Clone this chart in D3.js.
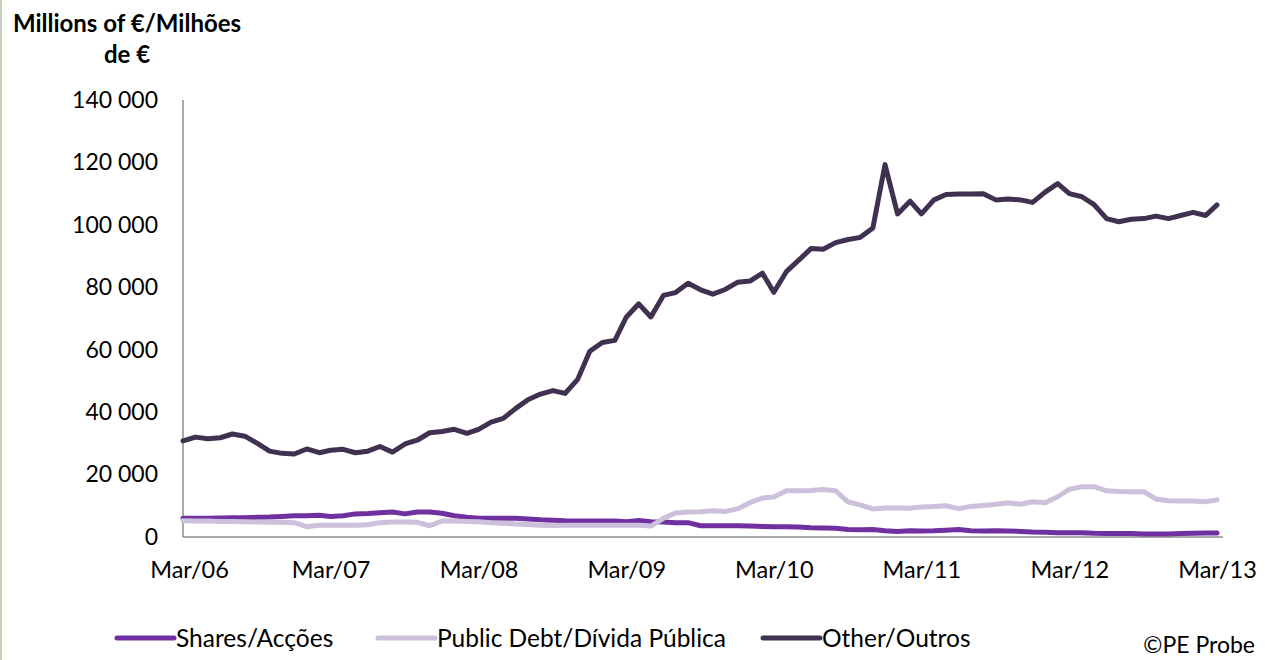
<!DOCTYPE html>
<html>
<head>
<meta charset="utf-8">
<script src="https://cdn.jsdelivr.net/npm/d3@7"></script>
<style>
  body { margin: 0; background: #fff; }
  svg { display: block; font-family: Lato, "Open Sans", sans-serif; }
</style>
</head>
<body>
<svg id="chart"></svg>
<script>
// monthly values, Mar/06 .. Mar/13, millions of euro
var shares = [6000, 6000, 6000, 6100, 6200, 6200, 6300, 6400, 6600, 6800,
  6800, 7000, 6600, 6800, 7400, 7500, 7800, 8000, 7400, 8000,
  8000, 7600, 6800, 6300, 6000, 6000, 6000, 6000, 5800, 5500,
  5400, 5200, 5100, 5100, 5100, 5100, 4900, 5300, 4900, 4800,
  4600, 4600, 3600, 3600, 3600, 3600, 3500, 3400, 3300, 3300,
  3200, 3000, 2900, 2800, 2400, 2300, 2400, 2000, 1800, 2000,
  1900, 2000, 2200, 2400, 2000, 1900, 2000, 1900, 1800, 1600,
  1500, 1400, 1400, 1400, 1200, 1100, 1100, 1100, 1000, 1000,
  1000, 1100, 1200, 1300, 1300];

var publicDebt = [5200, 5100, 5100, 5000, 5000, 4900, 4800, 4700, 4700, 4600,
  3300, 3800, 3800, 3800, 3800, 3900, 4600, 4800, 4800, 4700,
  3600, 5100, 5100, 5000, 4900, 4600, 4400, 4200, 4000, 3800,
  3700, 3800, 3800, 3800, 3800, 3800, 3800, 3800, 3500, 6000,
  7700, 8000, 8100, 8400, 8200, 9000, 11000, 12500, 12800, 14800,
  14800, 14900, 15200, 14800, 11200, 10300, 9000, 9300, 9300, 9200,
  9600, 9800, 10000, 9100, 9800, 10100, 10500, 11000, 10500, 11300,
  11000, 12900, 15300, 16100, 16100, 14800, 14600, 14500, 14500, 12200,
  11600, 11500, 11500, 11300, 11900];

var other = [30800, 32000, 31500, 31800, 33000, 32300, 30000, 27500, 26800, 26600,
  28200, 27000, 27800, 28100, 27000, 27500, 29000, 27200, 29800, 31000,
  33400, 33800, 34500, 33200, 34500, 36800, 38000, 41200, 44000, 45800,
  46900, 46000, 50500, 59500, 62300, 63000, 70400, 74700, 70500, 77400,
  78300, 81300, 79200, 77800, 79300, 81600, 82000, 84500, 78400, 85000,
  88600, 92400, 92200, 94300, 95300, 96000, 99000, 119300, 103500, 107600,
  103500, 108000, 109700, 109900, 109900, 110000, 108000, 108300, 108000, 107200,
  110500, 113200, 110000, 109000, 106500, 102000, 101000, 101800, 102000, 102800,
  102000, 103000, 104000, 103000, 106400];

var seriesNames = ["Shares/Acções", "Public Debt/Dívida Pública", "Other/Outros"];
var seriesColors = ["#7030a0", "#ccc0da", "#403151"];
var yTicks = [0, 20000, 40000, 60000, 80000, 100000, 120000, 140000];

var months = d3.timeMonth.range(new Date(2006, 2, 1), new Date(2013, 3, 1));
var yearTicks = months.filter(function(d, i) { return i % 12 === 0; });

var width = 1270, height = 660;
var svg = d3.select("#chart").attr("width", width).attr("height", height);

// thin frame line on the left edge
svg.append("line")
    .attr("x1", 1).attr("x2", 1).attr("y1", 0).attr("y2", height)
    .attr("stroke", "#c5d0b7").attr("stroke-width", 2);

var x = d3.scaleTime()
    .domain([months[0], months[months.length - 1]])
    .range([183, 1217]);
var y = d3.scaleLinear().domain([0, 140000]).range([537, 100]);

var fmt = d3.formatLocale({decimal: ",", thousands: " ", grouping: [3], currency: ["", "€"]}).format(",");

// y axis
var yAxis = svg.append("g")
    .attr("transform", "translate(183,0)")
    .call(d3.axisLeft(y).tickValues(yTicks).tickSize(0).tickPadding(25).tickFormat(fmt));
yAxis.select(".domain").remove();
yAxis.selectAll("text")
    .attr("font-family", "Lato, sans-serif")
    .attr("font-size", 23)
    .attr("fill", "#000");

svg.append("line")
    .attr("x1", 183).attr("x2", 183).attr("y1", 100).attr("y2", 537)
    .attr("stroke", "#8c8c8c").attr("stroke-width", 1.5);

// x axis
var xAxis = svg.append("g")
    .attr("transform", "translate(0,537)")
    .call(d3.axisBottom(x).tickValues(yearTicks).tickSize(0).tickPadding(24)
        .tickFormat(d3.timeFormat("%b/%y")));
xAxis.select(".domain").remove();
xAxis.selectAll("text")
    .attr("font-family", "Lato, sans-serif")
    .attr("font-size", 23.5)
    .attr("fill", "#000")
    .attr("dx", function(d, i) { return i === 0 ? 6 : 0; });

svg.append("line")
    .attr("x1", 183).attr("x2", 1223).attr("y1", 537).attr("y2", 537)
    .attr("stroke", "#8c8c8c").attr("stroke-width", 1.5);

// lines
var line = d3.line()
    .x(function(d, i) { return x(months[i]); })
    .y(function(d) { return y(d); });

[shares, publicDebt, other].forEach(function(s, k) {
  svg.append("path")
      .datum(s)
      .attr("fill", "none")
      .attr("stroke", seriesColors[k])
      .attr("stroke-width", 5)
      .attr("stroke-linejoin", "round")
      .attr("stroke-linecap", "round")
      .attr("d", line);
});

// axis title
var title = svg.append("text")
    .attr("font-weight", "bold")
    .attr("font-size", 24)
    .attr("text-anchor", "middle");
title.append("tspan").attr("x", 127).attr("y", 32).text("Millions of €/Milhões");
title.append("tspan").attr("x", 127).attr("y", 63).text("de €");

// legend
var legendX = [117, 378, 763];
var leg = svg.append("g").selectAll("g")
    .data(seriesNames).enter()
  .append("g")
    .attr("transform", function(d, i) { return "translate(" + legendX[i] + ",638)"; });
leg.append("line")
    .attr("x1", 0).attr("x2", 57)
    .attr("stroke", function(d, i) { return seriesColors[i]; })
    .attr("stroke-width", 5)
    .attr("stroke-linecap", "round");
leg.append("text")
    .attr("x", 59).attr("dy", "0.35em")
    .attr("font-size", 24.5)
    .text(function(d) { return d; });

svg.append("text")
    .attr("x", 1255).attr("y", 653)
    .attr("text-anchor", "end")
    .attr("font-size", 23)
    .text("©PE Probe");
</script>
</body>
</html>
